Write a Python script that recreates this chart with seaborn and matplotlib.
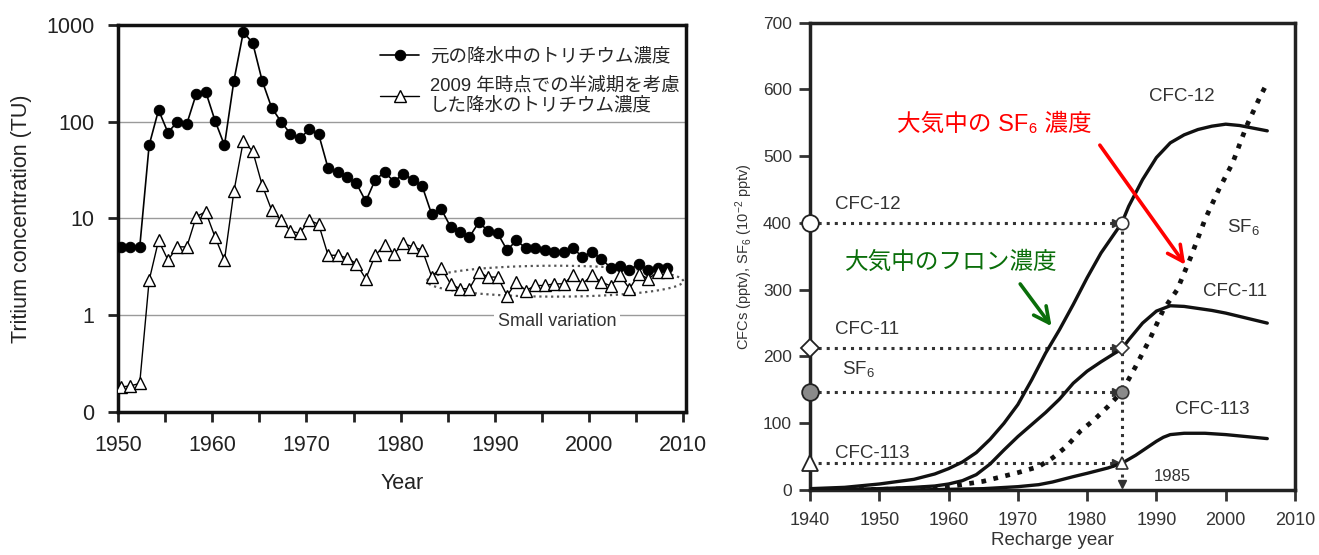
import numpy as np
import matplotlib
matplotlib.use("Agg")
import matplotlib.pyplot as plt
from matplotlib.ticker import MultipleLocator, FixedLocator, FixedFormatter
import seaborn as sns

# ---- left panel: tritium in precipitation (TU) ----
years = list(range(1950, 2009))
tritium_orig = [5.1, 5.0, 5.0, 57, 132, 77, 100, 95, 193, 205,
                102, 57, 265, 845, 650, 265, 140, 100, 75, 67,
                83, 74, 33, 30, 26.6, 23, 15, 25, 30, 24,
                29, 25, 21.4, 11, 12.5, 8.2, 7.3, 6.4, 9.1, 7.4,
                7.0, 4.7, 5.9, 4.9, 4.9, 4.7, 4.5, 4.5, 4.9, 4.0,
                4.5, 3.8, 3.1, 3.2, 2.9, 3.4, 2.9, 3.1, 3.1]
tritium_decay = [0.18, 0.185, 0.196, 2.28, 5.9, 3.7, 5.07, 5.07, 10.4, 11.7,
                 6.4, 3.7, 19, 63, 49.5, 22, 12.2, 9.6, 7.4, 7.0,
                 9.6, 8.66, 4.15, 4.15, 3.9, 3.4, 2.37, 4.15, 5.27, 4.3,
                 5.5, 5.07, 4.7, 2.5, 3.1, 2.1, 1.87, 1.87, 2.78, 2.47,
                 2.47, 1.59, 2.19, 1.79, 2.02, 2.02, 2.1, 2.1, 2.57, 2.1,
                 2.57, 2.2, 2.0, 2.57, 1.87, 2.67, 2.37, 2.78, 2.78]
log_ticks = [0.1, 1, 10, 100, 1000]
log_labels = ['0', '1', '10', '100', '1000']

# ---- right panel: atmospheric CFCs / SF6 ----
cfc12_years = [1940, 1945, 1950, 1955, 1958, 1960, 1962, 1964, 1966, 1968, 1970, 1972,
               1974, 1976, 1978, 1980, 1982, 1984, 1985, 1986, 1988, 1990, 1992, 1994,
               1996, 1998, 2000, 2002, 2004, 2006]
cfc12 = [2, 4, 9, 16, 24, 32, 42, 56, 76, 100, 128, 165,
         205, 240, 278, 318, 355, 385, 400, 425, 465, 498, 520, 532,
         540, 545, 548, 546, 542, 538]
cfc11_years = [1940, 1945, 1950, 1955, 1958, 1960, 1962, 1964, 1966, 1968, 1970, 1972,
               1974, 1976, 1978, 1980, 1982, 1984, 1985, 1986, 1988, 1990, 1992, 1994,
               1996, 1998, 2000, 2002, 2004, 2006]
cfc11 = [0, 1, 2, 4, 6, 9, 14, 23, 39, 60, 80, 98,
         116, 136, 160, 178, 192, 205, 211, 225, 250, 268, 276, 275,
         272, 269, 265, 260, 255, 250]
cfc113_years = [1940, 1955, 1960, 1965, 1970, 1973, 1975, 1978, 1980, 1983, 1985, 1987,
                1989, 1990, 1991, 1992, 1994, 1997, 2000, 2003, 2006]
cfc113 = [0, 0, 1, 2, 5, 8, 12, 20, 25, 33, 40, 52,
          66, 73, 79, 83, 85, 85, 83, 80, 77]
sf6_years = [1940, 1950, 1955, 1960, 1965, 1970, 1973, 1975, 1977, 1979, 1981, 1983,
             1985, 1987, 1989, 1991, 1993, 1995, 1997, 1999, 2001, 2003, 2005, 2006]
sf6 = [0, 1, 2, 5, 13, 26, 35, 48, 65, 88, 105, 125,
       147, 185, 225, 270, 300, 350, 405, 450, 490, 545, 590, 610]

sample_year = 1985
sample_values = [400, 212, 147, 40]

sns.set_style("ticks")
plt.rcParams['font.family'] = ['Liberation Sans', 'Noto Sans CJK JP', 'DejaVu Sans']
plt.rcParams['mathtext.fontset'] = 'custom'
plt.rcParams['mathtext.rm'] = 'Liberation Sans'
plt.rcParams['mathtext.it'] = 'Liberation Sans'
plt.rcParams['axes.unicode_minus'] = False

fig = plt.figure(figsize=(13.19, 5.55), dpi=100)
ax1 = fig.add_axes([0.0895, 0.2582, 0.4306, 0.6968])
ax2 = fig.add_axes([0.6141, 0.1171, 0.3677, 0.842])

# ---------------- left panel ----------------
x_mid = np.array(years) + 0.3
sns.lineplot(x=x_mid, y=tritium_orig, ax=ax1, color='black', lw=1.2,
             marker='o', markersize=7.5, markerfacecolor='black',
             markeredgecolor='black', label='元の降水中のトリチウム濃度', zorder=4)
sns.lineplot(x=x_mid, y=tritium_decay, ax=ax1, color='black', lw=1.0,
             marker='^', markersize=8.5, markerfacecolor='white',
             markeredgecolor='black', markeredgewidth=1.0,
             label='2009 年時点での半減期を考慮\nした降水のトリチウム濃度', zorder=4)

ax1.set_yscale('log')
ax1.set_ylim(0.1, 1000)
ax1.set_xlim(1950, 2010.3)
ax1.yaxis.set_major_locator(FixedLocator(log_ticks))
ax1.yaxis.set_major_formatter(FixedFormatter(log_labels))
ax1.yaxis.set_minor_locator(FixedLocator([]))
ax1.xaxis.set_major_locator(MultipleLocator(10))
ax1.xaxis.set_minor_locator(MultipleLocator(5))
for v in log_ticks[1:-1]:
    ax1.axhline(v, color='#9a9a9a', lw=1.0, zorder=1)

# "small variation" dotted ellipse
t = np.linspace(0, 2 * np.pi, 200)
ax1.plot(1996.4 + 13.6 * np.cos(t), 10 ** (0.35 + 0.16 * np.sin(t)),
         ls=':', color='#555555', lw=1.6, zorder=3)
ax1.text(1996.6, 0.85, 'Small variation', fontsize=13, color='#333333',
         ha='center', va='center', zorder=5,
         bbox=dict(facecolor='white', edgecolor='none', pad=3))

ax1.set_ylabel('Tritium concentration (TU)', fontsize=15.5, color='#222222', labelpad=10)
ax1.set_xlabel('Year', fontsize=15.5, color='#222222', labelpad=12)
ax1.tick_params(axis='both', which='both', direction='out', length=7, width=2,
                labelsize=15.5, colors='#222222')
ax1.tick_params(axis='x', which='both', pad=10)
ax1.tick_params(axis='y', which='both', pad=10)
for s in ax1.spines.values():
    s.set_linewidth(2.5)
    s.set_color('#111111')

leg = ax1.legend(loc='upper left', bbox_to_anchor=(0.455, 0.95), fontsize=13.3,
                 frameon=True, facecolor='white', edgecolor='none', framealpha=1,
                 handlelength=2.1, handletextpad=0.6, borderpad=0.2,
                 labelspacing=0.6, borderaxespad=0)
leg.set_zorder(6)

# ---------------- right panel ----------------
for xs, ys in [(cfc12_years, cfc12), (cfc11_years, cfc11), (cfc113_years, cfc113)]:
    sns.lineplot(x=xs, y=ys, ax=ax2, color='#111111', lw=2.4, zorder=4)
sns.lineplot(x=sf6_years, y=sf6, ax=ax2, color='#111111', lw=3.4,
             linestyle=(0, (1.0, 1.6)), zorder=4)

ax2.set_xlim(1940, 2010)
ax2.set_ylim(0, 700)
ax2.xaxis.set_major_locator(MultipleLocator(10))
ax2.yaxis.set_major_locator(MultipleLocator(100))

# dotted read-off lines for a 1985 sample
for v in sample_values:
    ax2.plot([1940, sample_year - 0.7], [v, v], ls=':', lw=2.2, color='#333333', zorder=3)
    ax2.plot([sample_year - 0.9], [v], marker='>', ms=6, color='#333333', zorder=3)
ax2.plot([sample_year, sample_year], [400, 12], ls=':', lw=2.2, color='#333333', zorder=3)
ax2.plot([sample_year], [9], marker='v', ms=6, color='#333333', zorder=3)

# symbols on the y axis and at 1985
left_styles = [dict(marker='o', ms=12, mfc='white'),
               dict(marker='D', ms=9, mfc='white'),
               dict(marker='o', ms=12, mfc='#8a8a8a'),
               dict(marker='^', ms=12, mfc='white')]
for v, st in zip(sample_values, left_styles):
    ax2.plot([1940], [v], mec='#222222', mew=1.3, clip_on=False, zorder=6, ls='none', **st)
    st2 = dict(st)
    st2['ms'] = st['ms'] * 0.75
    ax2.plot([sample_year], [v], mec='#333333', mew=1.2, zorder=6, ls='none', **st2)

lab_kw = dict(fontsize=13.5, color='#333333', va='center')
ax2.text(1943.6, 428, 'CFC-12', ha='left', **lab_kw)
ax2.text(1943.6, 240, 'CFC-11', ha='left', **lab_kw)
ax2.text(1944.6, 181, 'SF$_6$', ha='left', **lab_kw)
ax2.text(1943.6, 55, 'CFC-113', ha='left', **lab_kw)
ax2.text(1993.6, 590, 'CFC-12', ha='center', **lab_kw)
ax2.text(2002.5, 394, 'SF$_6$', ha='center', **lab_kw)
ax2.text(2001.3, 297, 'CFC-11', ha='center', **lab_kw)
ax2.text(1998.0, 120, 'CFC-113', ha='center', **lab_kw)
ax2.text(1992.3, 20, '1985', ha='center', fontsize=12, color='#333333', va='center')

# Japanese call-outs
ax2.text(1966.6, 548, '大気中の SF₆ 濃度', color='red', fontsize=17,
         ha='center', va='center', zorder=7)
ax2.annotate('', xy=(1994.4, 334), xytext=(1981.6, 520),
             arrowprops=dict(arrowstyle='->', color='red', lw=2.6, mutation_scale=28),
             zorder=7)
ax2.text(1960.4, 341, '大気中のフロン濃度', color='#0a6e0a', fontsize=17,
         ha='center', va='center', zorder=7)
ax2.annotate('', xy=(1975.1, 242), xytext=(1970.1, 312),
             arrowprops=dict(arrowstyle='->', color='#0a6e0a', lw=2.6, mutation_scale=28),
             zorder=7)

ax2.set_ylabel('CFCs (pptv), SF$_6$ (10$^{-2}$ pptv)', fontsize=10.5, color='#333333',
               labelpad=6)
ax2.set_xlabel('Recharge year', fontsize=13.5, color='#333333', labelpad=2)
ax2.tick_params(axis='both', direction='out', length=8, width=2,
                labelsize=13, colors='#333333')
ax2.tick_params(axis='x', pad=8)
ax2.tick_params(axis='y', pad=5, labelsize=12.5)
for s in ax2.spines.values():
    s.set_linewidth(2.5)
    s.set_color('#222222')

fig.savefig('out.png', dpi=100)
